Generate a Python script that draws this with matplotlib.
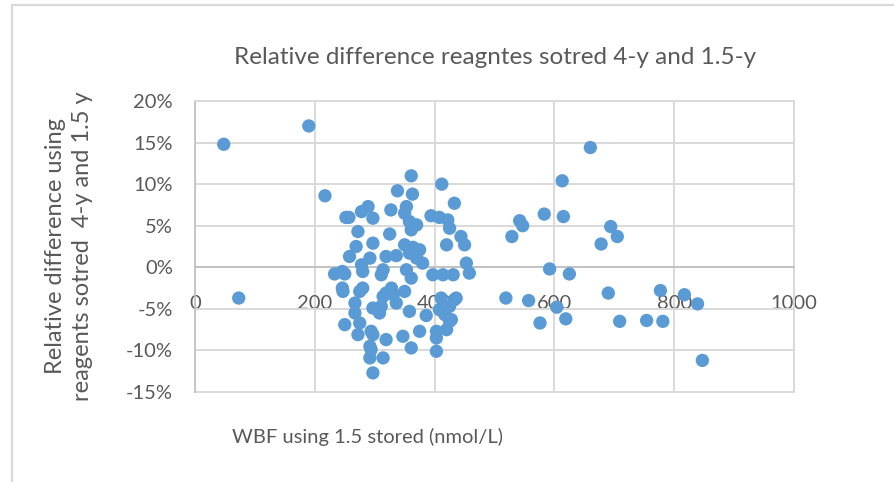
import matplotlib
matplotlib.use("Agg")
import matplotlib.pyplot as plt
from matplotlib.ticker import FuncFormatter, FixedLocator
from matplotlib.lines import Line2D

# ---------------- data ----------------
wbf_stored_1_5 = [
    48, 190, 217, 252, 73,
    660, 613, 583, 615, 542, 547, 529, 694, 705, 678, 592, 625, 519, 557, 604,
    619, 576, 690, 777, 817, 839, 847, 709, 754, 781,
    361, 412, 338, 363, 433, 289, 353, 327, 350, 278, 257, 297, 394, 408, 422,
    358, 370, 425, 361, 272, 325, 444, 297, 269, 350, 364, 375, 420, 450, 258,
    292, 319, 336, 358, 370, 380, 453, 278, 314, 353, 233, 250, 397, 414, 431,
    458, 280, 311, 361, 246,
    246, 247, 275, 280, 319, 328, 314, 331, 350, 336, 267, 267, 297, 308, 311,
    358, 386, 408, 425, 433, 411, 436, 250, 275, 428, 425, 417, 375, 272, 297,
    294, 347, 403, 420, 319, 292, 294, 361, 403, 403, 292, 314, 297,
]
rel_diff_pct = [
    14.8, 17.0, 8.6, 6.0, -3.7,
    14.4, 10.4, 6.4, 6.1, 5.6, 5.0, 3.7, 4.9, 3.7, 2.8, -0.2, -0.8, -3.7, -4.0, -4.8,
    -6.2, -6.7, -3.1, -2.8, -3.3, -4.4, -11.2, -6.5, -6.4, -6.5,
    11.0, 10.0, 9.2, 8.8, 7.7, 7.3, 7.3, 6.9, 6.5, 6.7, 6.0, 5.9, 6.2, 6.0, 5.7,
    5.5, 5.1, 4.7, 4.5, 4.3, 4.0, 3.7, 2.9, 2.5, 2.7, 2.4, 2.1, 2.7, 2.7, 1.3,
    1.1, 1.3, 1.4, 1.7, 1.1, 0.5, 0.5, 0.3, -0.3, -0.3, -0.8, -0.8, -0.9, -0.9, -0.9,
    -0.7, -0.5, -0.9, -1.3, -0.5,
    -2.5, -2.9, -2.9, -2.5, -3.1, -2.5, -3.5, -3.3, -2.9, -4.3, -4.3, -5.5, -4.9, -5.5, -4.7,
    -5.3, -5.8, -5.1, -4.7, -3.9, -3.7, -3.7, -6.9, -6.7, -6.3, -6.5, -5.7, -7.7, -8.1, -8.1,
    -7.7, -8.3, -7.7, -7.5, -8.7, -9.5, -9.9, -9.7, -8.5, -10.1, -10.9, -10.9, -12.7,
]

x_ticks = [0, 200, 400, 600, 800, 1000]
y_ticks = [-15, -10, -5, 0, 5, 10, 15, 20]

title_text = "Relative difference reagntes sotred 4-y and 1.5-y"
xlabel_text = "WBF using 1.5 stored (nmol/L)"
ylabel_text = "Relative difference using\nreagents sotred  4-y and 1.5 y"

# ---------------- style ----------------
plt.rcParams['font.family'] = ['Lato', 'DejaVu Sans']
plt.rcParams['axes.unicode_minus'] = False
TEXT = "#595959"
GRID = "#d9d9d9"
AXIS = "#bfbfbf"
BLUE = "#5B9BD5"

W, H = 895, 482
fig = plt.figure(figsize=(W / 100, H / 100), dpi=100)

left_px, right_px, top_px, bot_px = 195, 794, 101, 392
ax = fig.add_axes([left_px / W, 1 - bot_px / H,
                   (right_px - left_px) / W, (bot_px - top_px) / H])

ax.scatter(wbf_stored_1_5, rel_diff_pct, s=92, color=BLUE, edgecolors='none',
           zorder=3, clip_on=False)

ax.set_xlim(0, 1000)
ax.set_ylim(-15, 20)
ax.xaxis.set_major_locator(FixedLocator(x_ticks))
ax.yaxis.set_major_locator(FixedLocator(y_ticks))
ax.yaxis.set_major_formatter(FuncFormatter(lambda v, p: f"{v:.0f}%"))

ax.grid(True, color=GRID, linewidth=1.4, zorder=0)
ax.set_axisbelow(True)

for s in ['top', 'right']:
    ax.spines[s].set_color(GRID)
    ax.spines[s].set_linewidth(1.4)
ax.spines['left'].set_color(AXIS)
ax.spines['left'].set_linewidth(1.2)
ax.spines['bottom'].set_position(('data', 0))
ax.spines['bottom'].set_color(AXIS)
ax.spines['bottom'].set_linewidth(1.2)
ax.axhline(-15, color=GRID, linewidth=1.4, zorder=0, clip_on=False)

ax.tick_params(axis='both', length=0, labelsize=14.5, labelcolor=TEXT)
ax.tick_params(axis='x', pad=20)
ax.tick_params(axis='y', pad=16)

fig.text(495 / W, 1 - 58 / H, title_text, ha='center', va='center',
         fontsize=17.5, color=TEXT)
fig.text(232 / W, 1 - 437 / H, xlabel_text, ha='left', va='center',
         fontsize=14.5, color=TEXT)
fig.text(69 / W, 1 - 246 / H, ylabel_text, ha='center', va='center',
         rotation=90, multialignment='center', fontsize=17, color=TEXT,
         linespacing=1.3)

# chart-area border (left and top)
fig.add_artist(Line2D([12 / W, 12 / W], [0, 1 - 5 / H], transform=fig.transFigure,
                      color=GRID, linewidth=1.6))
fig.add_artist(Line2D([12 / W, 1], [1 - 5 / H, 1 - 5 / H], transform=fig.transFigure,
                      color=GRID, linewidth=1.6))

fig.savefig("out.png", dpi=100, facecolor="white")
